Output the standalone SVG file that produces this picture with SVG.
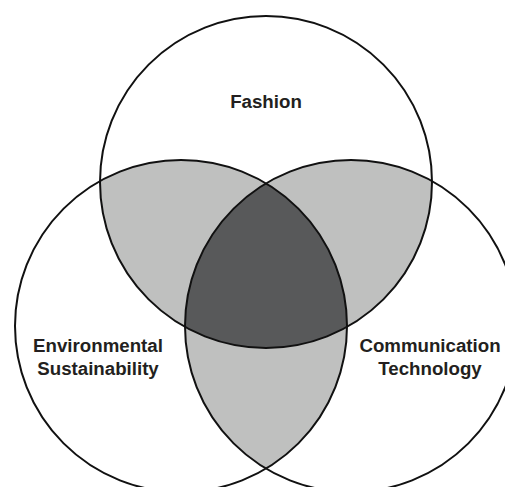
<svg xmlns="http://www.w3.org/2000/svg" width="505" height="487" viewBox="0 0 505 487">
  <style>
    .ring { fill: none; stroke: #111; stroke-width: 2; }
    .light { fill: #bfc0bf; }
    .dark { fill: #58595a; }
    .label { font-family: "Liberation Sans", Arial, sans-serif; font-weight: bold; font-size: 18.7px; fill: #231f20; text-anchor: middle; }
  </style>
  <defs>
    <clipPath id="clipA"><circle cx="266" cy="182" r="166"/></clipPath>
    <clipPath id="clipB"><circle cx="181" cy="326" r="166"/></clipPath>
    <clipPath id="clipC"><circle cx="351" cy="326" r="166"/></clipPath>
  </defs>
  <rect x="0" y="0" width="505" height="487" fill="#ffffff"/>
  <g id="overlaps">
    <circle class="light" cx="266" cy="182" r="166" clip-path="url(#clipB)"/>
    <circle class="light" cx="266" cy="182" r="166" clip-path="url(#clipC)"/>
    <circle class="light" cx="181" cy="326" r="166" clip-path="url(#clipC)"/>
    <g clip-path="url(#clipC)">
      <circle class="dark" cx="266" cy="182" r="166" clip-path="url(#clipB)"/>
    </g>
  </g>
  <g id="fashion">
    <circle class="ring" cx="266" cy="182" r="166"/>
    <text class="label" x="266" y="108">Fashion</text>
  </g>
  <g id="environmental">
    <circle class="ring" cx="181" cy="326" r="166"/>
    <text class="label" x="98" y="352">Environmental</text>
    <text class="label" x="98" y="375">Sustainability</text>
  </g>
  <g id="communication">
    <circle class="ring" cx="351" cy="326" r="166"/>
    <text class="label" x="430" y="352">Communication</text>
    <text class="label" x="430" y="375">Technology</text>
  </g>
</svg>
